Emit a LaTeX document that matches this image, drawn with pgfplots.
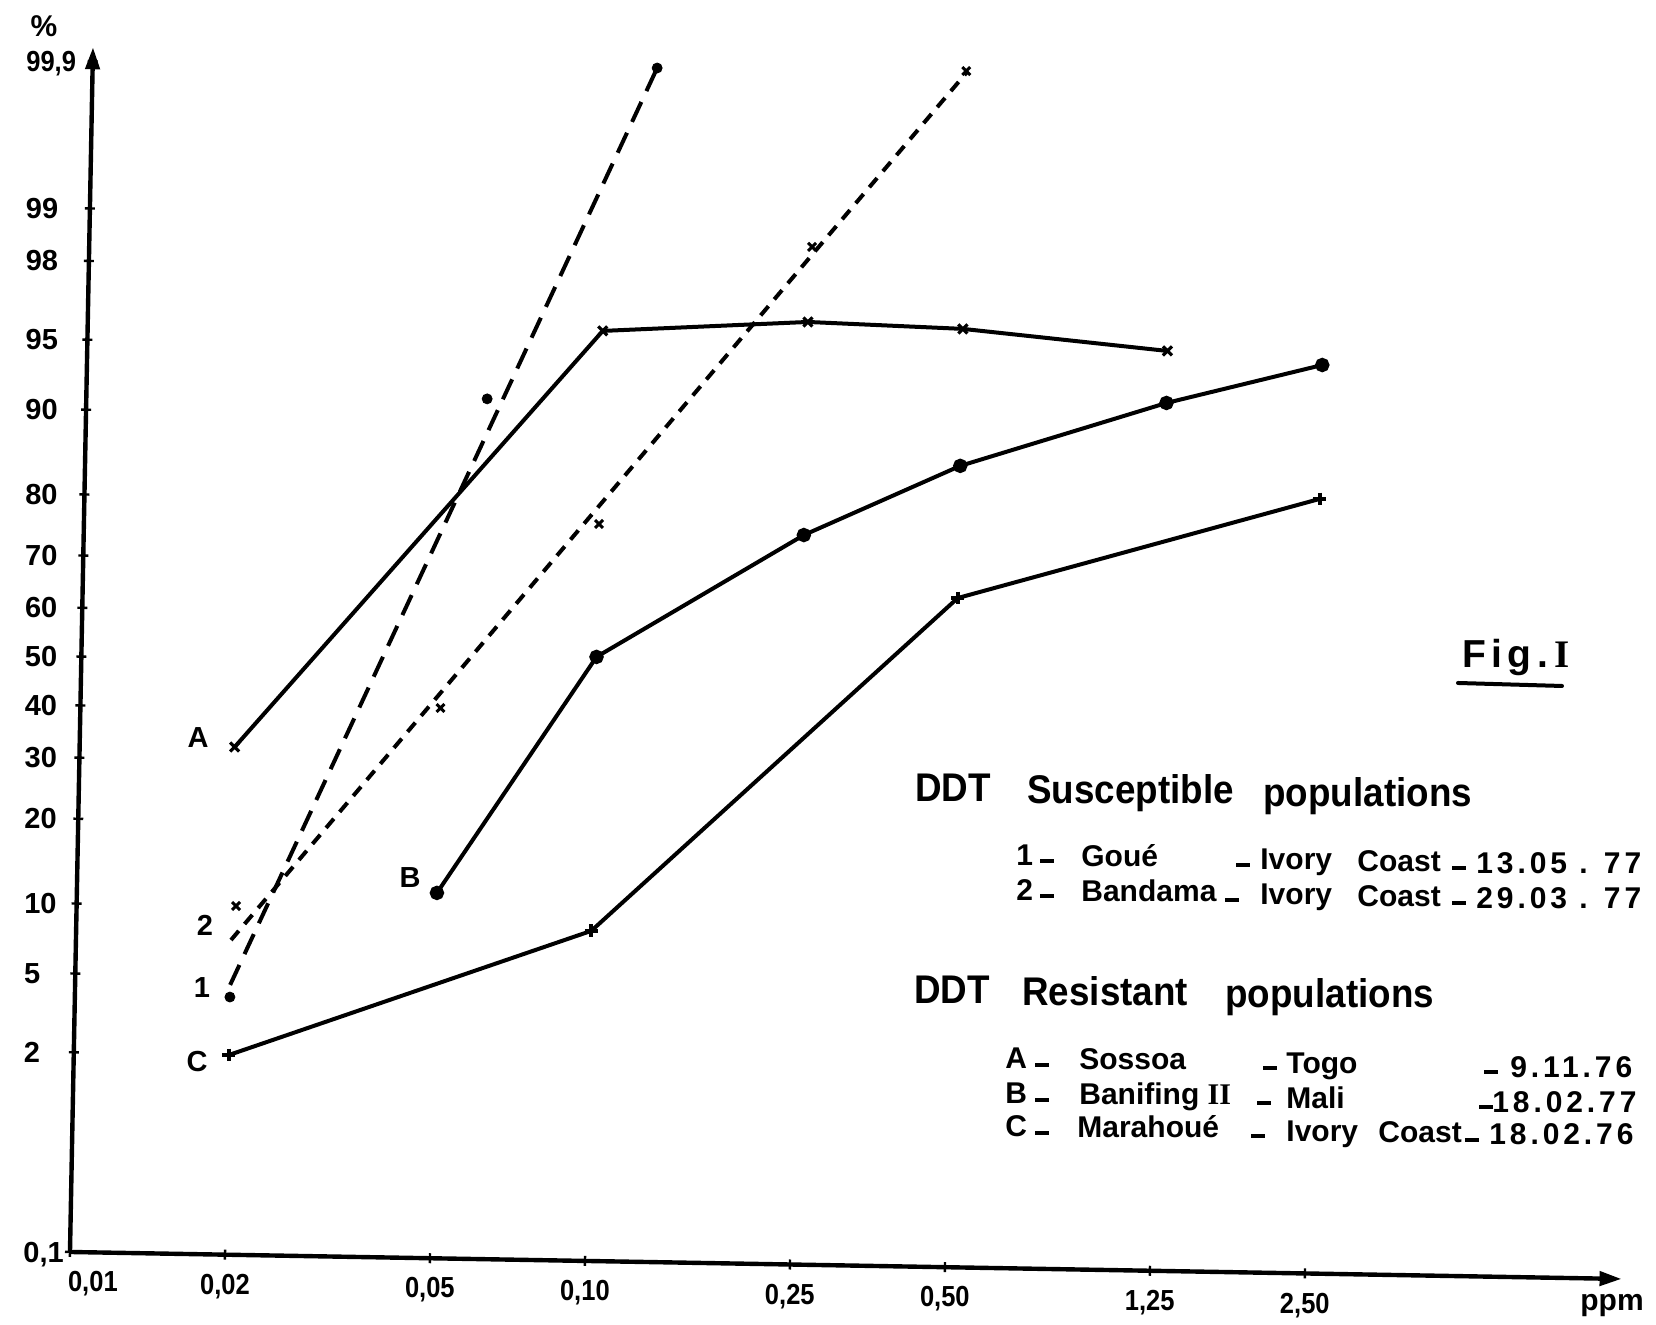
\documentclass[border=0pt]{standalone}
\usepackage{fontspec}
\setmainfont{Liberation Sans}
\usepackage{pgfplots}
\pgfplotsset{compat=1.18}
\usetikzlibrary{arrows.meta}
\newfontfamily\headfont{Liberation Sans}[FakeStretch=0.92]
\newfontfamily\condfont{Liberation Sans}[FakeStretch=0.88]
\newfontfamily\datefont{Liberation Sans}[LetterSpace=13]
\newfontfamily\figfont{Liberation Sans}[LetterSpace=13]
\newfontfamily\romfont{Liberation Serif}
\newcommand{\ytickf}{\fontsize{14.5}{16}\selectfont\bfseries}
\newcommand{\xtickf}{\condfont\fontsize{14.5}{16}\selectfont\bfseries}
\newcommand{\entf}{\fontsize{15}{17}\selectfont\bfseries}
\newcommand{\headf}{\headfont\fontsize{20}{22}\selectfont\bfseries}
\newcommand{\dsh}{\rule[1.5pt]{7pt}{2pt}}
\newcommand{\tx}[3]{\node[anchor=base west,inner sep=0pt,font=\entf] at (#1,#2) {#3};}
\newcommand{\dt}[3]{\node[anchor=base west,inner sep=0pt,font=\entf\datefont] at (#1,#2) {#3};}
\newcommand{\hd}[3]{\node[anchor=base west,inner sep=0pt,font=\headf] at (#1,#2) {#3};}
\newcommand{\lab}[3]{\node[anchor=center,inner sep=0pt,font=\fontsize{14.5}{16}\selectfont\bfseries] at (#1,#2) {#3};}
\begin{document}
\begin{tikzpicture}
\begin{axis}[
  xmode=log,
  x={(111.83pt,-1.944pt)}, y={(1.84pt,96.33pt)},
  xmin=0.01, xmax=10.3, ymin=-3.0902, ymax=3.163,
  axis lines=left,
  clip=false,
  every outer x axis line/.append style={line width=2.1pt,-{Triangle[length=11pt,width=7pt]}},
  every outer y axis line/.append style={line width=2.4pt,-{Triangle[length=11pt,width=7pt]}},
  axis line style={line width=2.2pt,-{Triangle[length=11pt,width=7pt]}},
  xtick={0.01,0.02,0.05,0.1,0.25,0.5,1.25,2.5},
  xticklabels={{\hspace{23pt}0,01},{0,02},{0,05},{0,10},{0,25},{0,50},{1,25},{2,50}},
  ytick={-3.0902,-2.0537,-1.6449,-1.2816,-0.8416,-0.5244,-0.2533,0,0.2533,0.5244,0.8416,1.2816,1.6449,2.0537,2.3263,3.0902},
  yticklabels={{0,1},2,5,10,20,30,40,50,60,70,80,90,95,98,99,{\condfont 99,9}},
  minor xtick={}, minor ytick={},
  tick align=center,
  major tick length=5pt,
  tick style={line width=1.2pt,black},
  xticklabel style={anchor=north,inner sep=0pt,yshift=-7pt,text depth=0pt,font=\xtickf},
  yticklabel style={anchor=west,inner sep=0pt,xshift={-21pt-1.6pt*(\tick+3.0902)},text depth=0pt,font=\ytickf},
]
\coordinate (O) at (axis cs:0.01,-3.0902);
% A - Sossoa
\addplot[black,line width=2pt,mark=x,mark size=3.2pt,mark options={line width=1.6pt}] coordinates {
 (0.02,-0.455) (0.10,1.737) (0.25,1.802) (0.50,1.780) (1.25,1.684)};
% B - Banifing II
\addplot[black,line width=2pt,mark=*,mark size=2.6pt] coordinates {
 (0.05,-1.194) (0.10,0.045) (0.25,0.696) (0.50,1.069) (1.25,1.414) (2.50,1.625)};
% C - Marahoue
\addplot[black,line width=2pt,mark=+,mark size=3.2pt,mark options={line width=1.8pt}] coordinates {
 (0.02,-2.054) (0.10,-1.377) (0.50,0.383) (2.50,0.930)};
% 1 - Goue
\addplot[black,line width=2pt,dash pattern=on 11pt off 6pt] coordinates {(0.02,-1.690) (0.1247,3.106)};
\addplot[black,only marks,mark=*,mark size=2.5pt] coordinates {(0.02,-1.753) (0.060,1.374) (0.1247,3.106)};
% 2 - Bandama
\addplot[black,line width=2pt,dash pattern=on 6pt off 4.5pt] coordinates {(0.02,-1.457) (0.50,3.118)};
\addplot[black,only marks,mark=x,mark size=2.8pt,mark options={line width=1.5pt}] coordinates {
 (0.0204,-1.280) (0.05,-0.234) (0.10,0.735) (0.253,2.192) (0.4966,3.118)};
\end{axis}
\begin{scope}[shift={(O)},x=0.5pt,y=-0.5pt,shift={(-70,-1252)}]
\path (0,0) rectangle (1656,1325);
\node[inner sep=0pt,font=\fontsize{15}{17}\selectfont\bfseries] at (44,26) {\%};
\node[anchor=base west,inner sep=0pt,font=\fontsize{15}{17}\selectfont\bfseries] at (1580,1311) {ppm};
\lab{198}{738}{A}\lab{205}{925}{2}\lab{202}{988}{1}\lab{197}{1062}{C}\lab{410}{878}{B}
\node[anchor=base west,inner sep=0pt,font=\figfont\fontsize{19.5}{21}\selectfont\bfseries] at (1462,668) {Fig\,.\,{\romfont I}};
\draw[line width=2pt,line cap=round] (1458,683) -- (1562,686);
\hd{915}{802}{DDT}\hd{1027}{804}{Susceptible}\hd{1263}{807}{populations}
\tx{1016}{866}{1}\tx{1040}{866}{\dsh}\tx{1081}{867}{Goué}\tx{1236}{870}{\dsh}\tx{1260}{870}{Ivory}\tx{1357}{872}{Coast}\tx{1452}{873}{\dsh}\dt{1476}{874}{13.05 . 77}
\tx{1016}{901}{2}\tx{1040}{901}{\dsh}\tx{1081}{902}{Bandama}\tx{1225}{905}{\dsh}\tx{1260}{905}{Ivory}\tx{1357}{907}{Coast}\tx{1452}{908}{\dsh}\dt{1476}{909}{29.03 . 77}
\hd{914}{1004}{DDT}\hd{1022}{1006}{Resistant}\hd{1225}{1008}{populations}
\tx{1005}{1069}{A}\tx{1035}{1070}{\dsh}\tx{1079}{1070}{Sossoa}\tx{1263}{1073}{\dsh}\tx{1286}{1074}{Togo}\tx{1484}{1077}{\dsh}\dt{1510}{1078}{9.11.76}
\tx{1005}{1104}{B}\tx{1035}{1105}{\dsh}\tx{1079}{1105}{Banifing {\romfont II}}\tx{1257}{1108}{\dsh}\tx{1286}{1109}{Mali}\tx{1479}{1112}{\dsh}\dt{1492}{1113}{18.02.77}
\tx{1005}{1137}{C}\tx{1035}{1138}{\dsh}\tx{1077}{1138}{Marahoué}\tx{1251}{1141}{\dsh}\tx{1286}{1142}{Ivory}\tx{1378}{1143}{Coast}\tx{1465}{1145}{\dsh}\dt{1489}{1145}{18.02.76}
\end{scope}
\end{tikzpicture}
\end{document}
